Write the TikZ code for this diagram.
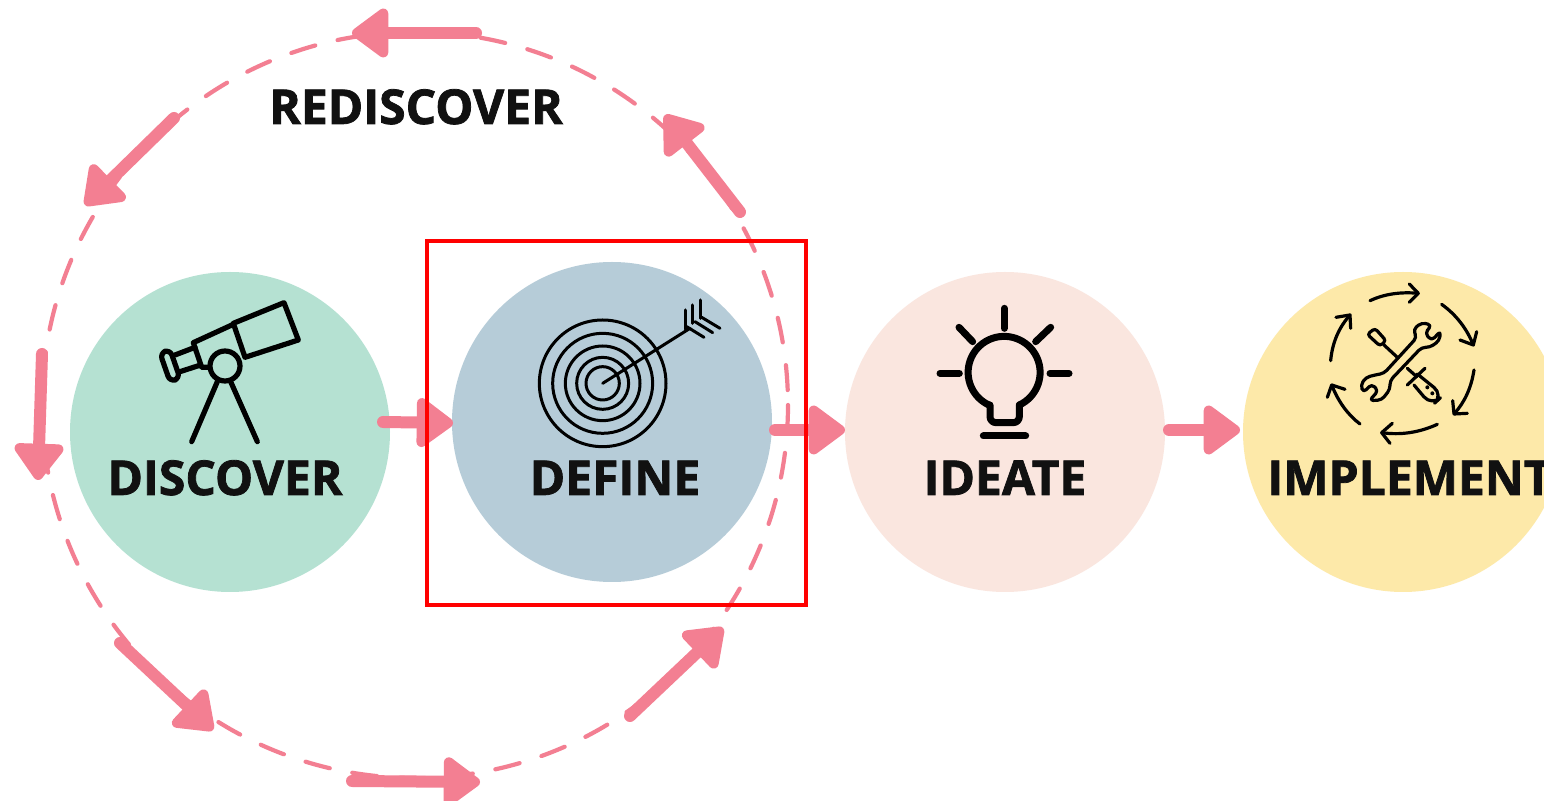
\documentclass[tikz,border=0pt]{standalone}
\usepackage{fontspec}
\setmainfont{Open Sans}
\newfontfamily\heavyfont[UprightFont=* Bold,FakeBold=1.6]{Open Sans}
\usetikzlibrary{arrows.meta}
\definecolor{pinkc}{HTML}{F37F92}
\definecolor{mint}{HTML}{B5E1D2}
\definecolor{steel}{HTML}{B6CCD8}
\definecolor{peach}{HTML}{FAE6DF}
\definecolor{sand}{HTML}{FDE9A9}
\definecolor{ink}{HTML}{111111}
\tikzset{
  stage/.style={circle,minimum size=160pt,inner sep=0pt,outer sep=0pt},
  flowarrow/.style={pinkc,line width=6pt,line cap=round,line join=round,-{Triangle[length=20pt,width=28pt,line width=5pt,round]}},
  ring/.style={pinkc,line width=2.1pt,line cap=round,dash pattern=on 12.5pt off 11.5pt},
  label/.style={font=\heavyfont\fontsize{24}{26}\selectfont,text=ink,inner sep=0pt,anchor=base},
  icon/.style={black,line cap=round,line join=round},
  zoomed/.style={shift={(#1)},scale=1/3}
}
\begin{document}
\begin{tikzpicture}[x=0.5pt,y=-0.5pt]
\clip (0,0) rectangle (1544,801);
\fill[white] (0,0) rectangle (1544,801);
% stages
\node[stage,fill=mint]  (discover)  at (230,432) {};
\node[stage,fill=steel] (define)    at (612,422) {};
\node[stage,fill=peach] (ideate)    at (1005,432) {};
\node[stage,fill=sand]  (implement) at (1403,432) {};
% ring
\coordinate (ringc) at (415,405);
\draw[ring] (ringc) circle [radius=373];
% ring arrows
\coordinate (a1s) at (476,33);  \coordinate (a1e) at (352,33);
\coordinate (a2s) at (174,118); \coordinate (a2e) at (85,205);
\coordinate (a3s) at (42,354);  \coordinate (a3e) at (38,480);
\coordinate (a4s) at (120,643); \coordinate (a4e) at (213,730);
\coordinate (a5s) at (352,781); \coordinate (a5e) at (480,782);
\coordinate (a6s) at (630,716); \coordinate (a6e) at (723,628);
\coordinate (a7s) at (740,212); \coordinate (a7e) at (665,115);
\foreach \n in {1,...,7} {\draw[flowarrow] (a\n s) -- (a\n e);}
% flow arrows
\coordinate (f1s) at (383,422); \coordinate (f1e) at (453,423);
\coordinate (f2s) at (775,430); \coordinate (f2e) at (845,430);
\coordinate (f3s) at (1169,430); \coordinate (f3e) at (1240,430);
\draw[flowarrow] (f1s) -- (f1e);
\draw[flowarrow] (f2s) -- (f2e);
\draw[flowarrow] (f3s) -- (f3e);
% labels
\node[label] (lr) at (416,124) {REDISCOVER};
\node[label] (l1) at (225,495) {DISCOVER};
\node[label] (l2) at (615,495) {DEFINE};
\node[label] (l3) at (1005,495) {IDEATE};
\node[label,anchor=base west] (l4) at (1267,495) {IMPLEMENT};
% telescope
\begin{scope}[zoomed={130,280},icon,line width=2.6pt]
\draw (310,130)--(462,68)--(505,180)--(345,232)--cycle;
\draw (310,133)--(190,188)--(215,262)--(235,262);
\draw (195,202)--(135,225);
\draw (150,275)--(212,255);
\draw[rounded corners=3pt] (90,219.5)--(120,208.5)--(150,294.5)--(120,305.5)--cycle;
\draw (285,258) circle [radius=45];
\draw (262,305)--(185,485);
\draw (302,305)--(382,485);
\end{scope}
% target
\begin{scope}[zoomed={520,280},icon,line width=1.5pt]
\foreach \r in {190,150,112,78,50} {\draw (248,310) circle [radius=\r];}
\draw (248,310)--(510,145);
\draw (495,90)--(495,148);
\draw (518,75)--(518,130);
\draw (540,60)--(540,115);
\draw (500,140)--(552,172);
\draw (525,125)--(578,158);
\draw (545,112)--(600,145);
\end{scope}
% bulb
\begin{scope}[zoomed={920,290},icon,line width=3.5pt]
\draw (253,55)--(253,115);
\draw (117,112)--(158,155);
\draw (392,112)--(347,155);
\draw (60,250)--(118,250);
\draw (390,250)--(447,250);
\draw[rounded corners=3pt] (210,345)--(210,398)--(298,398)--(298,345);
\draw (298,345) arc [start angle=65,end angle=-245,radius=108];
\draw (190,438)--(317,438);
\end{scope}
% tools
\begin{scope}[zoomed={1310,270},icon,line width=1.6pt]
\draw (180,92) .. controls (223,72) and (272,65) .. (325,70);
\draw (298,42)--(325,70)--(298,97);
\draw (395,103) .. controls (438,134) and (470,175) .. (490,225);
\draw (450,210)--(490,225)--(500,185);
\draw (492,300) .. controls (484,353) and (464,397) .. (432,432);
\draw (428,392)--(432,432)--(472,430);
\draw (382,463) .. controls (327,488) and (272,496) .. (215,488);
\draw (247,460)--(215,488)--(240,520);
\draw (150,462) .. controls (113,434) and (85,395) .. (65,345);
\draw (52,382)--(65,345)--(105,358);
\draw (62,272) .. controls (67,217) and (87,172) .. (120,135);
\draw (78,142)--(120,135)--(122,175);
\draw[rounded corners=2pt] (320,203)--(310,178)--(335,158)--(365,165)--(345,190)--(365,212)--(392,183)--(388,212)--(360,232)--(335,232)--(240,332)--(240,358)--(215,390)--(178,392)--(205,362)--(185,342)--(160,368)--(152,345)--(168,322)--(195,315)--(222,310)--cycle;
\draw[rounded corners=1.5pt] (172,193)--(195,175)--(228,212)--(210,228)--cycle;
\draw (222,225)--(262,262);
\draw (292,295)--(320,320);
\draw (345,295)--(292,345);
\draw[rounded corners=6pt] (322,312)--(400,375)--(365,408)--(312,345);
\fill (352,352) circle [radius=6];
\fill (367,370) circle [radius=6];
\end{scope}
% highlight
\node[draw=red,line width=2pt,minimum width=189.5pt,minimum height=182pt,inner sep=0pt,outer sep=0pt] (frame) at (616.5,423) {};
\end{tikzpicture}
\end{document}
